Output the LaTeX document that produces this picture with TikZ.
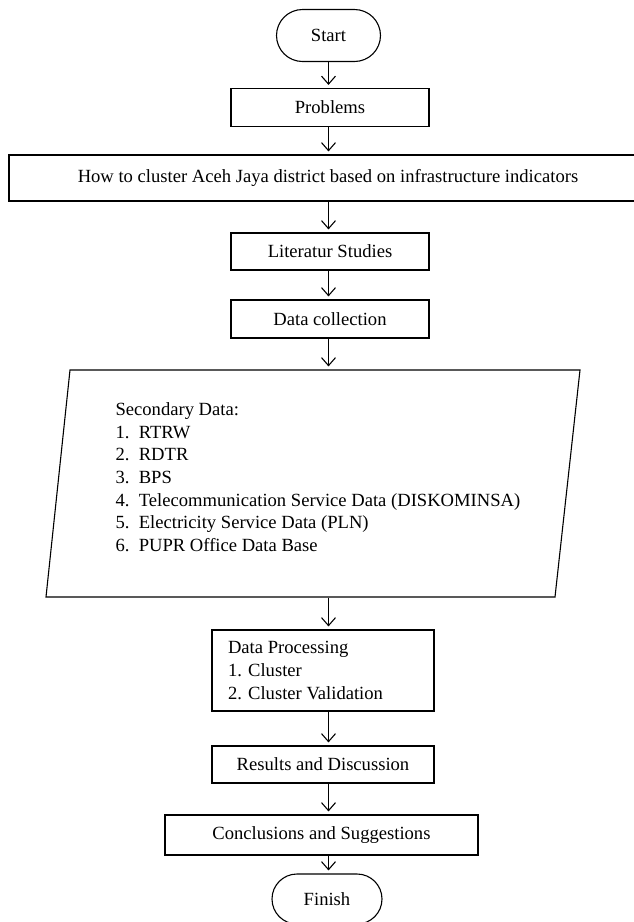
\documentclass[tikz,border=0pt]{standalone}
\usepackage{fontspec}
\setmainfont{Liberation Serif}
\usetikzlibrary{shapes, shapes.misc, arrows.meta, positioning}

\begin{document}
\begin{tikzpicture}[>={Straight Barb[length=8pt,width=14pt]}, x=1pt, y=-1pt, line width=1.1pt,
  font=\fontsize{18.6}{22.7}\selectfont,
  box/.style={draw, rectangle, inner sep=0pt, minimum width=198pt, minimum height=38pt},
  term/.style={draw, rounded rectangle, inner sep=0pt, minimum width=104pt, minimum height=52pt}]
\useasboundingbox (0,0) rectangle (633,922);
%
\node[term] (start) at (328.5, 35.5) {Start};
\node[box] (prob) at (330, 107.5) {Problems};
\node[box, minimum width=638pt, minimum height=46pt] (how) at (328, 178) {How to cluster Aceh Jaya district based on infrastructure indicators};
\node[box, minimum height=37pt] (lit) at (330, 251.5) {Literatur Studies};
\node[box] (dc) at (330, 319) {Data collection};
%
% secondary data (parallelogram)
\node[minimum width=534pt, minimum height=227pt, inner sep=0pt] (sec) at (313, 483.5) {};
\draw (70, 370) -- (580, 370) -- (555, 597) -- (46, 597) -- cycle;
\node[anchor=north west, inner sep=0pt, align=left] (secText) at (115, 402)
  {Secondary Data:\\ 1.~~RTRW\\ 2.~~RDTR\\ 3.~~BPS\\ 4.~~Telecommunication Service Data (DISKOMINSA)\\
   5.~~Electricity Service Data (PLN)\\ 6.~~PUPR Office Data Base};
%
\node[box, minimum width=222pt, minimum height=81pt, text width=190pt, inner xsep=16pt, align=flush left] (proc) at (323, 670.5)
  {Data Processing\\ 1. Cluster\\ 2. Cluster Validation};
\node[box, minimum width=222pt, minimum height=37pt] (res) at (323, 764.5) {Results and Discussion};
\node[box, minimum width=313pt, minimum height=40pt] (conc) at (321.5, 835) {Conclusions and Suggestions};
\node[term, minimum width=110pt, minimum height=50pt] (fin) at (327, 899) {Finish};
%
\foreach \a/\b in {start/prob, prob/how, how/lit, lit/dc, dc/sec, sec/proc, proc/res, res/conc, conc/fin}
  \draw[->, shorten >=3pt] (\a.south -| start) -- (\b.north -| start);
\end{tikzpicture}
\end{document}
